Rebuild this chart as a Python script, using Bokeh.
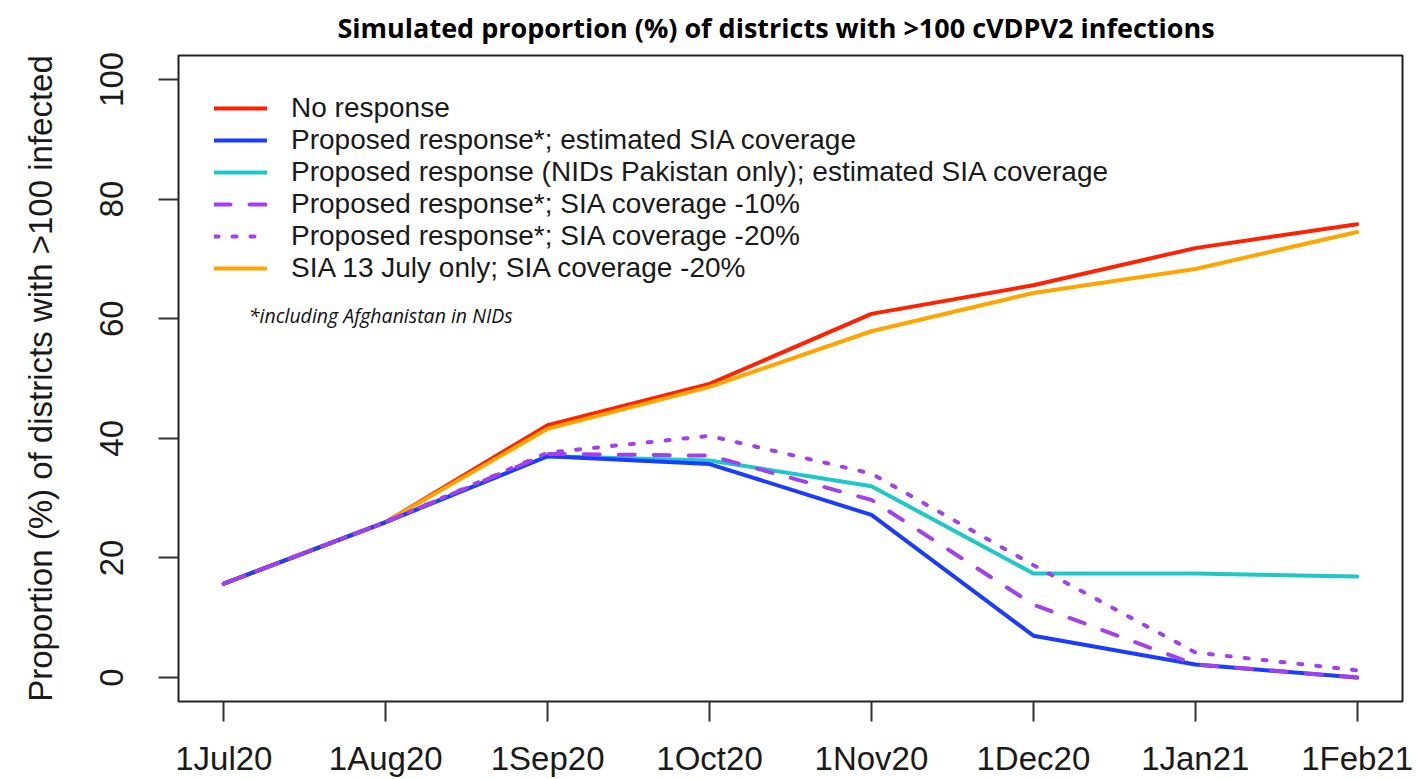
from bokeh.plotting import figure
from bokeh.models import Range1d, FixedTicker, Legend, LegendItem, Label
from bokeh.embed import file_html
from bokeh.resources import INLINE

months = ["1Jul20", "1Aug20", "1Sep20", "1Oct20", "1Nov20", "1Dec20", "1Jan21", "1Feb21"]
x_idx = list(range(len(months)))

no_response = [15.7, 26.0, 42.2, 49.1, 60.8, 65.6, 71.8, 75.8]
proposed_est = [15.7, 26.0, 37.0, 35.7, 27.2, 7.0, 2.2, 0.0]
proposed_pak = [15.7, 26.0, 37.0, 36.3, 32.0, 17.4, 17.4, 16.9]
proposed_m10 = [15.7, 26.0, 37.4, 37.1, 29.7, 12.2, 2.2, 0.0]
proposed_m20 = [15.7, 26.0, 37.6, 40.4, 34.1, 18.8, 4.2, 1.2]
sia_july_m20 = [15.7, 26.0, 41.6, 48.6, 57.9, 64.3, 68.3, 74.5]

labels = [
    "No response",
    "Proposed response*; estimated SIA coverage",
    "Proposed response (NIDs Pakistan only); estimated SIA coverage",
    "Proposed response*; SIA coverage -10%",
    "Proposed response*; SIA coverage -20%",
    "SIA 13 July only; SIA coverage -20%",
]
y_ticks = [0, 20, 40, 60, 80, 100]
title_text = "Simulated proportion (%) of districts with >100 cVDPV2 infections"

p = figure(width=1416, height=779, output_backend="svg", toolbar_location=None,
           x_range=Range1d(-0.28, 7.28), y_range=Range1d(-4, 104),
           min_border_left=178, min_border_right=14, min_border_top=54, min_border_bottom=0)

p.title.text = title_text
p.title.text_font = "Open Sans"
p.title.text_font_style = "bold"
p.title.text_font_size = "27px"
p.title.text_color = "#000000"
p.title.align = "left"
p.title.offset = 159
p.title.standoff = 16
p.title.vertical_align = "top"

p.xgrid.visible = False
p.ygrid.visible = False
p.outline_line_color = "#222222"
p.outline_line_width = 2
p.background_fill_color = "white"
p.border_fill_color = "white"

for ax in (p.xaxis[0], p.yaxis[0]):
    ax.axis_line_color = None
    ax.major_tick_line_color = "#333333"
    ax.major_tick_line_width = 2
    ax.major_tick_out = 20
    ax.major_tick_in = 0
    ax.minor_tick_line_color = None
    ax.major_label_text_font = "Liberation Sans"
    ax.major_label_text_font_size = "33px"
    ax.major_label_text_color = "#1a1a1a"

p.xaxis.ticker = FixedTicker(ticks=x_idx)
p.xaxis.major_label_overrides = {i: m for i, m in zip(x_idx, months)}
p.xaxis.major_label_standoff = 18

p.yaxis.ticker = FixedTicker(ticks=y_ticks)
p.yaxis.major_label_orientation = "vertical"
p.yaxis.major_label_standoff = 35
p.yaxis.axis_label = "Proportion (%) of districts with >100 infected"
p.yaxis.axis_label_text_font = "Liberation Sans"
p.yaxis.axis_label_text_font_style = "normal"
p.yaxis.axis_label_text_font_size = "33px"
p.yaxis.axis_label_text_color = "#1a1a1a"
p.yaxis.axis_label_standoff = 39

series = [
    (no_response, "#ff2200", "solid"),
    (proposed_est, "#1a3cff", "solid"),
    (proposed_pak, "#1ec8c8", "solid"),
    (proposed_m10, "#a040f0", "16 19"),
    (proposed_m20, "#a040f0", "4 14"),
    (sia_july_m20, "#ffa500", "solid"),
]
order = [2, 0, 5, 1, 3, 4]
rmap = {}
for i in order:
    ys, col, dash = series[i]
    rmap[i] = p.line(x_idx, ys, line_color=col, line_width=4, line_dash=dash,
                     line_cap="round", line_join="round")

items = [LegendItem(label=labels[i], renderers=[rmap[i]]) for i in range(6)]
legend = Legend(items=items, location=(36, 417), orientation="vertical",
                border_line_color=None, background_fill_alpha=0,
                padding=0, margin=0, spacing=0,
                glyph_width=53, glyph_height=32, label_height=32,
                label_standoff=24, label_text_font="Liberation Sans",
                label_text_font_size="28px", label_text_color="#1a1a1a")
p.add_layout(legend, "center")

note = Label(x=0.154, y=60.6, text="*including Afghanistan in NIDs",
             text_font="Open Sans", text_font_style="italic", text_font_size="19.5px",
             text_color="#111111", text_baseline="alphabetic")
p.add_layout(note)

open("out.html", "w").write(file_html(p, INLINE))
